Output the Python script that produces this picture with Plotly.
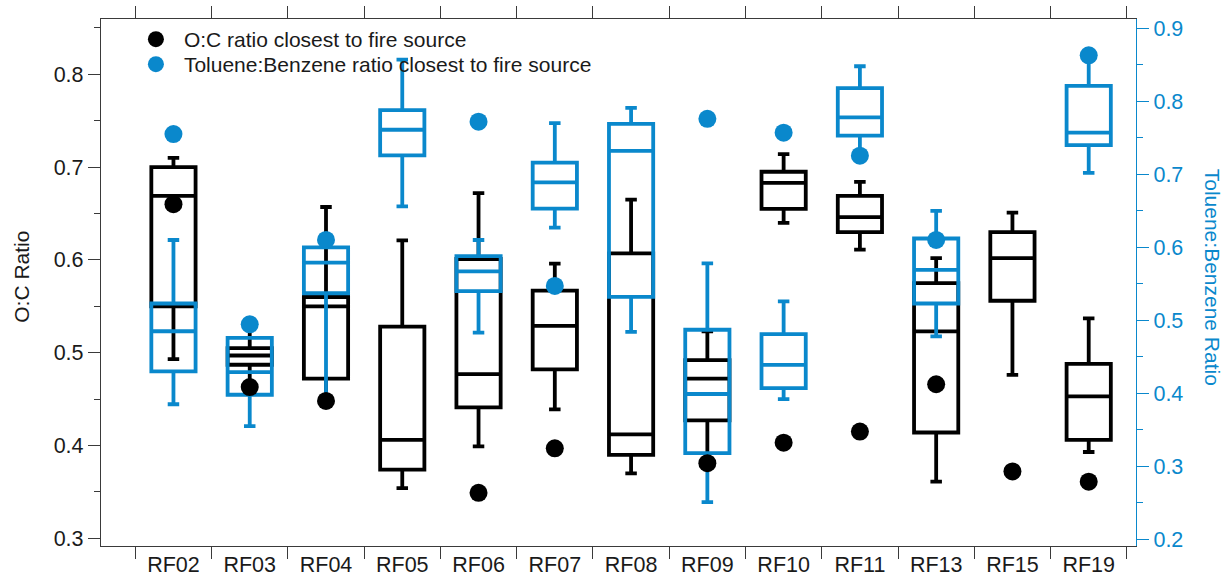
import plotly.graph_objects as go

# Flights on the x axis
flights = ["RF02", "RF03", "RF04", "RF05", "RF06", "RF07", "RF08",
           "RF09", "RF10", "RF11", "RF13", "RF15", "RF19"]

# O:C ratio distribution per flight (left axis)
oc_lower = [0.493, 0.465, 0.452, 0.354, 0.399, 0.439, 0.370, 0.385, 0.640, 0.611, 0.361, 0.476, 0.393]
oc_q1 = [0.550, 0.487, 0.472, 0.374, 0.441, 0.482, 0.390, 0.427, 0.655, 0.630, 0.414, 0.556, 0.406]
oc_median = [0.669, 0.497, 0.550, 0.406, 0.477, 0.529, 0.412, 0.472, 0.683, 0.646, 0.523, 0.602, 0.453]
oc_q3 = [0.700, 0.505, 0.560, 0.528, 0.601, 0.567, 0.607, 0.492, 0.695, 0.669, 0.575, 0.630, 0.488]
oc_upper = [0.710, 0.527, 0.657, 0.621, 0.672, 0.596, 0.665, 0.523, 0.714, 0.684, 0.602, 0.651, 0.537]

# Toluene:Benzene ratio distribution per flight (right axis); no RF15 data
tb_flights = ["RF02", "RF03", "RF04", "RF05", "RF06", "RF07", "RF08",
              "RF09", "RF10", "RF11", "RF13", "RF19"]
tb_lower = [0.385, 0.355, 0.395, 0.656, 0.483, 0.627, 0.484, 0.251, 0.392, 0.728, 0.478, 0.702]
tb_q1 = [0.430, 0.398, 0.537, 0.726, 0.540, 0.653, 0.532, 0.318, 0.407, 0.753, 0.523, 0.740]
tb_median = [0.485, 0.429, 0.579, 0.761, 0.567, 0.689, 0.732, 0.399, 0.439, 0.778, 0.569, 0.757]
tb_q3 = [0.523, 0.476, 0.600, 0.788, 0.588, 0.716, 0.769, 0.487, 0.481, 0.818, 0.612, 0.821]
tb_upper = [0.610, 0.476, 0.610, 0.857, 0.610, 0.770, 0.791, 0.578, 0.526, 0.848, 0.650, 0.860]

# Ratios measured closest to the fire source (None = not available)
oc_closest = [0.660, 0.463, 0.448, None, 0.349, 0.397, None, 0.381, 0.403, 0.415, 0.466, 0.372, 0.361]
tb_closest = [0.755, 0.4945, 0.610, None, 0.772, 0.547, None, 0.776, 0.757, 0.7255, 0.610, None, 0.863]

BLACK = "#000000"
BLUE = "#0a88cc"
FRAME = "#3a3a3a"
TEXT = "#1a1a1a"
FONT = "Liberation Sans, Arial, sans-serif"

fig = go.Figure()

# Black boxes on the left axis
fig.add_trace(go.Box(
    x=flights, q1=oc_q1, median=oc_median, q3=oc_q3,
    lowerfence=oc_lower, upperfence=oc_upper,
    width=0.58, whiskerwidth=0.26, boxpoints=False,
    line=dict(color=BLACK, width=3.8), fillcolor="rgba(0,0,0,0)",
    showlegend=False, xaxis="x", yaxis="y",
))

# Blue boxes on the right axis
fig.add_trace(go.Box(
    x=tb_flights, q1=tb_q1, median=tb_median, q3=tb_q3,
    lowerfence=tb_lower, upperfence=tb_upper,
    width=0.58, whiskerwidth=0.26, boxpoints=False,
    line=dict(color=BLUE, width=3.8), fillcolor="rgba(0,0,0,0)",
    showlegend=False, xaxis="x", yaxis="y2",
))

# Blue dots (right axis)
fig.add_trace(go.Scatter(
    x=flights, y=tb_closest, mode="markers",
    marker=dict(color=BLUE, size=18),
    name="Toluene:Benzene ratio closest to fire source",
    xaxis="x", yaxis="y2", legend="legend2",
))

# Black dots on a hidden copy of the left axis so they sit on top
fig.add_trace(go.Scatter(
    x=flights, y=oc_closest, mode="markers",
    marker=dict(color=BLACK, size=18),
    name="O:C ratio closest to fire source",
    xaxis="x", yaxis="y3", legend="legend",
))

oc_range = [0.2917, 0.8596]
tb_range = [0.1908, 0.9127]

legend_style = dict(
    xanchor="left", yanchor="top",
    bgcolor="rgba(0,0,0,0)", borderwidth=0,
    font=dict(family=FONT, size=21, color=TEXT),
    itemwidth=46,
)

fig.update_layout(
    width=1226, height=577,
    margin=dict(l=101, r=90, t=19, b=31, autoexpand=False),
    paper_bgcolor="white", plot_bgcolor="white",
    font=dict(family=FONT, size=21, color=TEXT),
    boxmode="overlay",
    showlegend=True,
    legend=dict(x=0.026, y=1.0, **legend_style),
    legend2=dict(x=0.026, y=0.9526, **legend_style),
    xaxis=dict(
        type="category", categoryorder="array", categoryarray=flights,
        range=[-0.95, 12.62], automargin=False,
        tickson="boundaries", ticks="outside", ticklen=12, tickwidth=1.3,
        tickcolor=FRAME, showline=True, linecolor=FRAME, linewidth=1.3,
        mirror="ticks", showgrid=False, zeroline=False,
        tickfont=dict(size=21.5, color=TEXT),
        ticklabelstandoff=-1,
    ),
    yaxis=dict(
        range=oc_range, tick0=0.3, dtick=0.1, automargin=False,
        ticks="outside", ticklen=12, tickwidth=1.3, tickcolor=FRAME,
        minor=dict(dtick=0.05, tick0=0.3, ticks="outside", ticklen=6,
                   tickwidth=1.3, tickcolor=FRAME),
        showline=True, linecolor=FRAME, linewidth=1.3,
        showgrid=False, zeroline=False,
        tickfont=dict(size=21.5, color=TEXT),
    ),
    yaxis2=dict(
        range=tb_range, tick0=0.2, dtick=0.1, overlaying="y", side="right",
        automargin=False,
        ticks="outside", ticklen=12, tickwidth=1.3, tickcolor=BLUE,
        minor=dict(dtick=0.05, tick0=0.2, ticks="outside", ticklen=6,
                   tickwidth=1.3, tickcolor=BLUE),
        showline=True, linecolor=BLUE, linewidth=1.3,
        showgrid=False, zeroline=False,
        tickfont=dict(size=21.5, color=BLUE),
    ),
    yaxis3=dict(
        range=oc_range, overlaying="y", visible=False, automargin=False,
        showgrid=False, zeroline=False,
    ),
    annotations=[
        dict(text="O:C Ratio", xref="paper", yref="paper",
             x=(21.5 - 101) / 1035, y=0.51, textangle=-90,
             showarrow=False, font=dict(size=21, color=TEXT),
             xanchor="center", yanchor="middle"),
        dict(text="Toluene:Benzene Ratio", xref="paper", yref="paper",
             x=(1212.5 - 101) / 1035, y=0.51, textangle=90,
             showarrow=False, font=dict(size=21, color=BLUE),
             xanchor="center", yanchor="middle"),
    ],
)

fig.write_html("out.html")
